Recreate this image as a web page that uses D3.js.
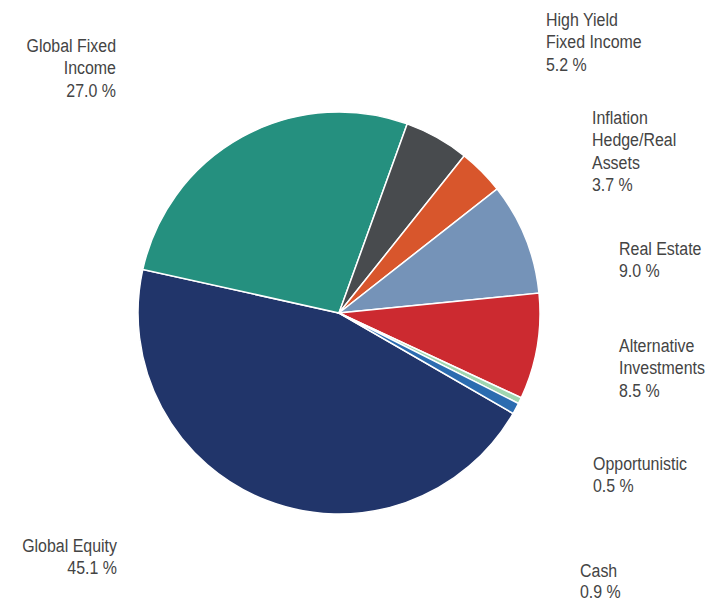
<!DOCTYPE html>
<html>
<head>
<meta charset="utf-8">
<script src="https://cdn.jsdelivr.net/npm/d3@7"></script>
<style>
  body { margin: 0; background: #fff; }
  svg { display: block; }
  .lbl { font-family: "Liberation Sans", Arial, sans-serif; font-size: 19px; fill: #444; }
</style>
</head>
<body>
<svg id="chart"></svg>
<script>
// slices, clockwise starting with Global Equity
const categories = ["Global Equity", "Global Fixed Income", "High Yield Fixed Income",
  "Inflation Hedge/Real Assets", "Real Estate", "Alternative Investments", "Opportunistic", "Cash"];
const values = [45.1, 27.0, 5.2, 3.7, 9.0, 8.5, 0.5, 0.9];
const labelLines = [
  ["Global Equity"],
  ["Global Fixed", "Income"],
  ["High Yield", "Fixed Income"],
  ["Inflation", "Hedge/Real", "Assets"],
  ["Real Estate"],
  ["Alternative", "Investments"],
  ["Opportunistic"],
  ["Cash"]
];
const colors = ["#21356a", "#25907f", "#484b4e", "#d8562c", "#7593b8", "#cc2a30", "#9fd6b0", "#2b6cb0"];

// label anchor points (x, first baseline, alignment)
const labelPos = [
  { x: 117, y: 552, anchor: "end" },
  { x: 116, y: 52, anchor: "end" },
  { x: 546, y: 26, anchor: "start" },
  { x: 592, y: 124, anchor: "start" },
  { x: 619, y: 255, anchor: "start" },
  { x: 619, y: 352, anchor: "start" },
  { x: 593, y: 470, anchor: "start" },
  { x: 580, y: 577, anchor: "start" }
];

const width = 722, height = 604;
const cx = 339, cy = 313, radius = 201;

const svg = d3.select("#chart")
  .attr("width", width)
  .attr("height", height);

const data = categories.map((c, i) => ({ name: c, value: values[i], color: colors[i] }));

const pie = d3.pie()
  .sort(null)
  .value(d => d.value)
  .startAngle(120 * Math.PI / 180)
  .endAngle(480 * Math.PI / 180);

const arc = d3.arc().innerRadius(0).outerRadius(radius);

const g = svg.append("g").attr("transform", `translate(${cx},${cy})`);

g.selectAll("path")
  .data(pie(data))
  .join("path")
    .attr("d", arc)
    .attr("fill", d => d.data.color)
    .attr("stroke", "#fff")
    .attr("stroke-width", 1.5);

// labels, slightly condensed
const lineH = 22.3;
const fmt = d3.format(".1f");

data.forEach((d, i) => {
  const p = labelPos[i];
  const lines = labelLines[i].concat([`${fmt(d.value)} %`]);
  const sx = 0.84;
  const t = svg.append("text")
    .attr("class", "lbl")
    .attr("text-anchor", p.anchor)
    .attr("transform", `translate(${p.x},${p.y}) scale(${sx},1)`);
  lines.forEach((l, j) => {
    t.append("tspan")
      .attr("x", 0)
      .attr("y", j * (i === 7 ? 21 : lineH))
      .text(l);
  });
});
</script>
</body>
</html>
